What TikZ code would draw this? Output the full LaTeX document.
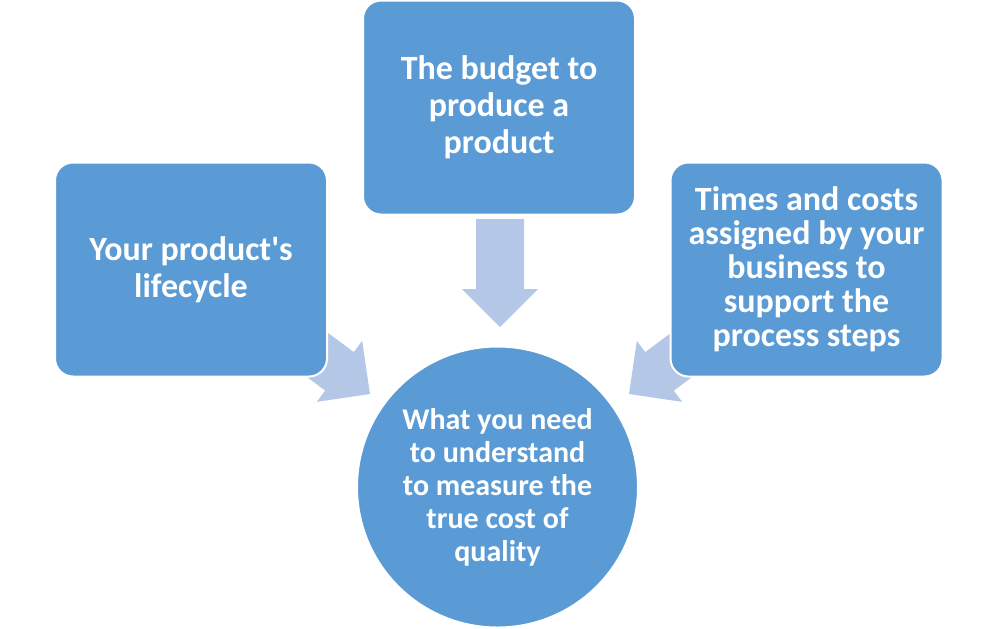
\documentclass[tikz,border=0pt]{standalone}
\usepackage{fontspec}
\setmainfont{Carlito}[Ligatures=TeXOff]
\definecolor{boxblue}{HTML}{5B9BD5}
\definecolor{arrowblue}{HTML}{B4C7E7}
\tikzset{
  factor/.style={rectangle, rounded corners=9pt, draw=white, line width=1pt,
    fill=boxblue, text=white, align=center, inner sep=2pt,
    font=\fontsize{17}{18.5}\selectfont\bfseries,
    minimum width=136pt, minimum height=107pt},
  goal/.style={circle, draw=white, line width=1pt, fill=boxblue, text=white,
    align=center, inner sep=0pt, minimum size=140.5pt,
    font=\fontsize{15}{16.5}\selectfont\bfseries},
  blockarrow/.style={fill=arrowblue, draw=none}
}
% block arrow, tip at the origin, pointing along +x
\newcommand\bigarrow{(-108,-24) -- (-38,-24) -- (-38,-38) -- (0,0)
  -- (-38,38) -- (-38,24) -- (-108,24) -- cycle}
\begin{document}
\begin{tikzpicture}[x=0.5pt,y=-0.5pt]
  \useasboundingbox (0,0) rectangle (1000,628) ;
  \coordinate (toptip) at (500,327) ;
  \coordinate (lefttip) at (370,394) ;
  \coordinate (righttip) at (629,394) ;
  \begin{scope}[shift={(toptip)},rotate=-90]
    \fill[blockarrow] \bigarrow ;
  \end{scope}
  \begin{scope}[shift={(lefttip)},rotate=-36.6]
    \fill[blockarrow] \bigarrow ;
  \end{scope}
  \begin{scope}[shift={(righttip)},rotate=-143.4]
    \fill[blockarrow] \bigarrow ;
  \end{scope}
  \node[factor] (lifecycle) at (191,269.5) {Your product's\\lifecycle} ;
  \node[factor] (budget) at (499,107.5) {The budget to\\produce a\\product} ;
  \node[factor,font=\fontsize{17}{17}\selectfont\bfseries] (times) at (806.5,269.5)
    {Times and costs\\assigned by your\\business to\\support the\\process steps} ;
  \node[goal] (truecost) at (497.5,487)
    {What you need\\to understand\\to measure the\\true cost of\\quality} ;
\end{tikzpicture}
\end{document}
